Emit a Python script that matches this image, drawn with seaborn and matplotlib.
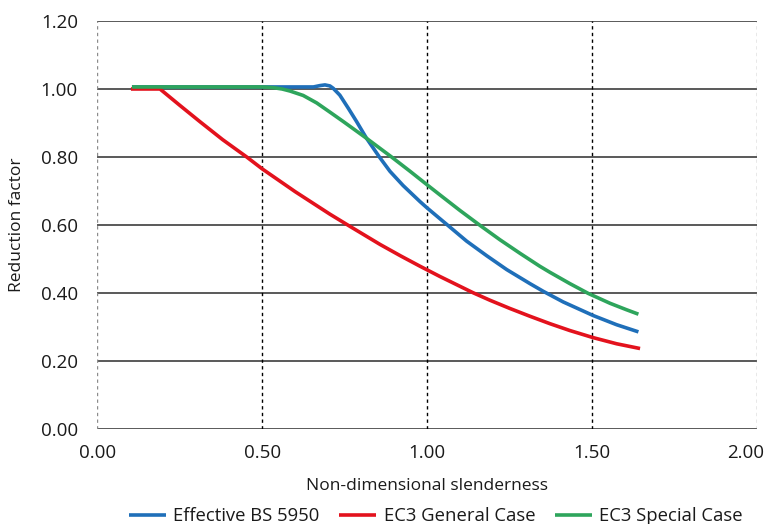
import matplotlib
matplotlib.use("Agg")
import matplotlib.pyplot as plt
import matplotlib.transforms as mtrans
import seaborn as sns
import pandas as pd

sns.set_style("white")
plt.rcParams['font.family'] = ['Open Sans', 'DejaVu Sans']

# Effective BS 5950
bs_x = [0.105, 0.40, 0.60, 0.655, 0.675, 0.69, 0.705, 0.715, 0.735, 0.761, 0.786, 0.816,
        0.855, 0.887, 0.927, 0.978, 1.00, 1.038, 1.059, 1.119, 1.18, 1.241, 1.311, 1.352,
        1.412, 1.503, 1.574, 1.64]
bs_y = [1.006, 1.006, 1.006, 1.006, 1.010, 1.012, 1.009, 1.002, 0.982, 0.943, 0.904, 0.855,
        0.800, 0.758, 0.716, 0.669, 0.650, 0.619, 0.602, 0.553, 0.510, 0.469, 0.428, 0.405,
        0.374, 0.334, 0.307, 0.286]

# EC3 General Case
gc_x = [0.102, 0.19, 0.25, 0.311, 0.38, 0.453, 0.50, 0.60, 0.705, 0.766, 0.857, 0.92,
        0.978, 1.038, 1.139, 1.19, 1.25, 1.311, 1.372, 1.432, 1.503, 1.574, 1.645]
gc_y = [1.000, 1.000, 0.952, 0.904, 0.851, 0.800, 0.765, 0.698, 0.632, 0.596, 0.543, 0.509,
        0.479, 0.449, 0.401, 0.379, 0.355, 0.332, 0.310, 0.290, 0.269, 0.251, 0.237]

# EC3 Special Case
sc_x = [0.105, 0.40, 0.50, 0.533, 0.560, 0.584, 0.624, 0.665, 0.705, 0.746, 0.816, 0.892,
        0.948, 1.00, 1.038, 1.099, 1.16, 1.22, 1.281, 1.341, 1.372, 1.432, 1.488, 1.554,
        1.604, 1.64]
sc_y = [1.006, 1.006, 1.006, 1.004, 1.000, 0.994, 0.981, 0.959, 0.932, 0.904, 0.855, 0.800,
        0.758, 0.718, 0.689, 0.643, 0.599, 0.557, 0.517, 0.479, 0.461, 0.428, 0.399, 0.370,
        0.351, 0.338]

labels = ["Effective BS 5950", "EC3 General Case", "EC3 Special Case"]
colors = ["#1f6fb9", "#e3121d", "#2ea55c"]

x_ticks = [0.0, 0.5, 1.0, 1.5, 2.0]
y_ticks = [0.0, 0.2, 0.4, 0.6, 0.8, 1.0, 1.2]

frames = []
for lab, xs, ys in zip(labels, [bs_x, gc_x, sc_x], [bs_y, gc_y, sc_y]):
    frames.append(pd.DataFrame({"x": xs, "y": ys, "series": lab}))
df = pd.concat(frames, ignore_index=True)

fig = plt.figure(figsize=(7.74, 5.24), dpi=100)
ax = fig.add_axes([0.1257, 0.181, 0.8526, 0.779])

for yt in y_ticks:
    ax.axhline(yt, color="#595959", lw=1.4, zorder=1)
for xt in x_ticks:
    c = "#8c8c8c" if xt in (0.0, 2.0) else "black"
    ax.axvline(xt, color=c, lw=1.0, ls=(0, (2.4, 2.4)), zorder=1)

sns.lineplot(data=df, x="x", y="y", hue="series", palette=colors, hue_order=labels,
             estimator=None, sort=False, lw=2.6, ax=ax, zorder=3)
for ln in ax.lines:
    ln.set_solid_joinstyle("round")
    ln.set_solid_capstyle("butt")

ax.set_xlim(0, 2.0)
ax.set_ylim(0, 1.2)
ax.set_xticks(x_ticks)
ax.set_yticks(y_ticks)
ax.set_xticklabels([f"{v:.2f}" for v in x_ticks])
ax.set_yticklabels([f"{v:.2f}" for v in y_ticks])
ax.tick_params(axis="both", length=0, labelsize=13.5, colors="#1a1a1a")
ax.tick_params(axis="x", pad=11)
ax.tick_params(axis="y", pad=14)
last = ax.get_xticklabels()[-1]
last.set_transform(last.get_transform() + mtrans.ScaledTranslation(-12 / 100, 0, fig.dpi_scale_trans))
for s in ax.spines.values():
    s.set_visible(False)
ax.set_xlabel("Non-dimensional slenderness", fontsize=12.5, labelpad=11, color="#1a1a1a")
ax.set_ylabel("Reduction factor", fontsize=12.5, labelpad=11, color="#1a1a1a")

leg = ax.legend(loc="upper center", bbox_to_anchor=(0.513, -0.16), ncol=3, frameon=False,
                fontsize=13.3, handlelength=2.0, columnspacing=1.05, handletextpad=0.4,
                labelcolor="#1a1a1a", borderpad=0.2)
for h in leg.get_lines():
    h.set_linewidth(2.6)

fig.savefig("out.png", dpi=100)
